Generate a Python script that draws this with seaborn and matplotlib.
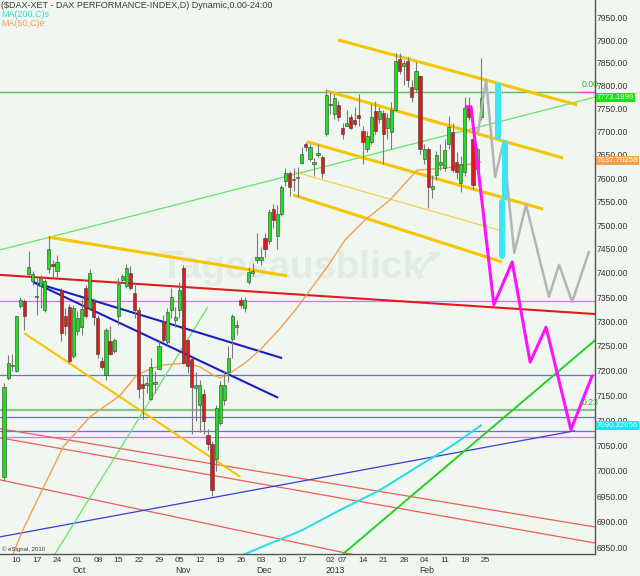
import numpy as np
import pandas as pd
import matplotlib
matplotlib.use("Agg")
import matplotlib.pyplot as plt
import matplotlib.transforms as mtransforms
from matplotlib.ticker import FixedLocator, NullLocator, FuncFormatter
import seaborn as sns

# ------------------------------------------------------------------ data
holidays = ["2012-12-24", "2012-12-25", "2012-12-26", "2012-12-31", "2013-01-01"]
dates = [d.strftime("%Y-%m-%d") for d in pd.bdate_range("2012-09-06", "2013-02-25")
         if d.strftime("%Y-%m-%d") not in holidays]

opens = [6987, 7185, 7209, 7198, 7332, 7342, 7398, 7383, 7350, 7372, 7323, 7408, 7418, 7404,
         7365, 7312, 7330, 7229, 7281, 7288, 7369, 7327, 7342, 7306, 7219, 7190, 7260, 7239,
         7310, 7385, 7372, 7399, 7359, 7324, 7172, 7170, 7143, 7172, 7203, 7300, 7257, 7324,
         7302, 7324, 7410, 7261, 7223, 7165, 7131, 7152, 7071, 7052, 7023, 7095, 7141, 7196,
         7263, 7288, 7344, 7327, 7382, 7400, 7428, 7428, 7474, 7466, 7534, 7478, 7523, 7594,
         7611, 7595, 7600, 7633, 7673, 7640, 7631, 7649, 7645, 7694, 7760, 7738, 7757, 7708,
         7712, 7731, 7725, 7736, 7702, 7662, 7678, 7744, 7727, 7740, 7708, 7700, 7746, 7858,
         7843, 7854, 7797, 7793, 7822, 7640, 7662, 7577, 7606, 7629, 7622, 7674, 7698, 7635,
         7589, 7612, 7752, 7683, 7619, 7731]
highs = [7175, 7232, 7233, 7312, 7350, 7346, 7445, 7405, 7389, 7395, 7388, 7478, 7428, 7437,
         7369, 7327, 7335, 7333, 7321, 7345, 7376, 7409, 7348, 7313, 7227, 7286, 7290, 7265,
         7389, 7398, 7418, 7414, 7375, 7329, 7190, 7188, 7226, 7198, 7260, 7313, 7328, 7368,
         7329, 7381, 7416, 7264, 7226, 7197, 7180, 7162, 7083, 7058, 7131, 7178, 7198, 7249,
         7316, 7302, 7350, 7350, 7412, 7420, 7483, 7455, 7483, 7534, 7545, 7543, 7585, 7622,
         7616, 7622, 7624, 7666, 7678, 7674, 7642, 7674, 7649, 7793, 7785, 7782, 7767, 7718,
         7746, 7738, 7753, 7782, 7712, 7702, 7760, 7767, 7753, 7746, 7740, 7764, 7871, 7871,
         7857, 7862, 7812, 7853, 7823, 7674, 7666, 7607, 7659, 7674, 7683, 7734, 7718, 7655,
         7648, 7776, 7776, 7690, 7666, 7860]
lows = [6980, 7181, 7199, 7196, 7328, 7282, 7395, 7376, 7313, 7327, 7320, 7400, 7390, 7389,
        7259, 7272, 7216, 7226, 7272, 7272, 7306, 7324, 7293, 7225, 7202, 7180, 7232, 7235,
        7293, 7380, 7369, 7364, 7306, 7145, 7103, 7155, 7141, 7155, 7202, 7258, 7252, 7307,
        7289, 7307, 7213, 7194, 7073, 7098, 7077, 7073, 7040, 6950, 7000, 7091, 7130, 7176,
        7226, 7272, 7327, 7320, 7378, 7393, 7420, 7417, 7434, 7460, 7494, 7449, 7520, 7584,
        7562, 7573, 7560, 7630, 7657, 7637, 7604, 7645, 7601, 7690, 7738, 7727, 7723, 7683,
        7712, 7705, 7712, 7712, 7631, 7655, 7674, 7695, 7718, 7631, 7683, 7662, 7744, 7826,
        7802, 7797, 7765, 7786, 7651, 7631, 7537, 7558, 7596, 7618, 7616, 7662, 7614, 7597,
        7570, 7605, 7725, 7577, 7610, 7725]
closes = [7166, 7215, 7212, 7310, 7344, 7310, 7413, 7397, 7353, 7390, 7383, 7450, 7414, 7422,
          7276, 7291, 7219, 7327, 7307, 7325, 7310, 7399, 7308, 7233, 7206, 7282, 7233, 7261,
          7377, 7394, 7411, 7369, 7324, 7162, 7165, 7175, 7206, 7176, 7249, 7262, 7319, 7351,
          7308, 7364, 7215, 7208, 7166, 7170, 7170, 7099, 7052, 6962, 7124, 7170, 7170, 7226,
          7310, 7292, 7334, 7344, 7402, 7405, 7434, 7434, 7451, 7527, 7510, 7523, 7582, 7611,
          7580, 7599, 7603, 7651, 7667, 7666, 7635, 7654, 7610, 7780, 7757, 7773, 7731, 7695,
          7719, 7708, 7716, 7729, 7677, 7690, 7731, 7702, 7744, 7695, 7729, 7746, 7855, 7832,
          7850, 7813, 7776, 7832, 7662, 7662, 7582, 7584, 7649, 7635, 7660, 7710, 7618, 7612,
          7630, 7752, 7731, 7585, 7662, 7773]

# moving averages (bar position, value)
ma50_x = [1.2, 2.2, 4.6, 9.6, 14.5, 21.1, 28.4, 32.6, 36.5, 39.0, 44.9, 48.1, 51.2, 53.0,
          55.4, 59.1, 62.8, 67.7, 71.4, 79.2, 83.6, 88.5, 94.6, 101.3, 107.6, 111.1, 117.0]
ma50_y = [6819, 6838, 6884, 6966, 7047, 7107, 7149, 7191, 7205, 7211, 7215, 7207, 7191, 7185,
          7195, 7215, 7242, 7286, 7323, 7412, 7469, 7511, 7553, 7617, 7621, 7625, 7634]
ma200_x = [57.0, 59.1, 73.1, 82.4, 92.2, 102.0, 109.4, 117.0]
ma200_y = [6830, 6838, 6884, 6923, 6962, 7011, 7047, 7090]

# projections
grey_x = [116.2, 118.2, 120.4, 122.4, 125.1, 128.0, 133.6, 136.1, 139.3, 143.4]
grey_y = [7699, 7813, 7602, 7675, 7442, 7543, 7351, 7417, 7340, 7444]
pink_x = [113.3, 114.5, 120.1, 124.6, 129.0, 132.9, 139.0, 144.2]
pink_y = [7754, 7754, 7334, 7423, 7217, 7288, 7081, 7189]
cyan_bar_x = [121.1, 122.8, 122.1]
cyan_bar_lo = [7688, 7560, 7435]
cyan_bar_hi = [7802, 7675, 7549]

# horizontal levels
fib_levels = [7786, 7120]
fib_labels = ["0.00", "0.23"]
blue_levels = [7191, 7107, 7079]
pink_levels = [7342, 7067]

# trend lines: (x0, y0, x1, y1)
red_main = [(-1.0, 7396, 145.0, 7315)]
red_thin = [(-1.0, 7083, 145.0, 6890), (-1.0, 7065, 145.0, 6859), (-1.0, 6982, 87.3, 6834)]
blue_long = [(-1.0, 6871, 140.0, 7079)]
blue_thick = [(7.1, 7381, 68.2, 7225), (7.1, 7381, 67.2, 7145)]
gold_thick = [(10.8, 7475, 69.4, 7394), (81.9, 7901, 140.5, 7758), (79.2, 7788, 137.1, 7643),
              (74.3, 7678, 132.2, 7534), (70.9, 7564, 122.1, 7423)]
gold_mid = [(4.9, 7276, 57.9, 6988)]
gold_thin = [(71.3, 7613, 122.8, 7486)]
green_light = [(-1.0, 7448, 145.0, 7775), (12.5, 6838, 50.0, 7330)]
green_strong = [(83.1, 6838, 145.0, 7262)]

week_ticks = ["2012-09-10", "2012-09-17", "2012-09-24", "2012-10-01", "2012-10-08", "2012-10-15",
              "2012-10-22", "2012-10-29", "2012-11-05", "2012-11-12", "2012-11-19", "2012-11-26",
              "2012-12-03", "2012-12-10", "2012-12-17", "2013-01-02", "2013-01-07", "2013-01-14",
              "2013-01-21", "2013-01-28", "2013-02-04", "2013-02-11", "2013-02-18", "2013-02-25"]
month_ticks = ["2012-10-01", "2012-11-05", "2012-12-03", "2013-01-02", "2013-02-04"]
month_labels = ["Oct", "Nov", "Dec", "2013", "Feb"]
y_ticks = list(range(6850, 7951, 50))

# ------------------------------------------------------------------ style
sns.set_theme(style="white")
BG = "#f0f7f0"
plt.rcParams["font.family"] = ["Liberation Sans", "DejaVu Sans"]

W, H = 640, 576
fig = plt.figure(figsize=(W / 100, H / 100), dpi=100, facecolor=BG)
ax = fig.add_axes([0, 22 / H, 595 / W, 554 / H])
ax.set_facecolor(BG)
ax.set_yscale("log")
ax.set_xlim(-0.99, 144.9)
ax.set_ylim(6838, 7990)

for s in ["left", "top"]:
    ax.spines[s].set_visible(False)
for s in ["right", "bottom"]:
    ax.spines[s].set_color("#505858")
    ax.spines[s].set_linewidth(1.0)

ax.yaxis.tick_right()
ax.yaxis.set_major_locator(FixedLocator(y_ticks))
ax.yaxis.set_minor_locator(NullLocator())
ax.yaxis.set_major_formatter(FuncFormatter(lambda v, p: f"{v:.2f}"))
ax.tick_params(axis="y", length=0, pad=1.5, labelsize=6.2, labelcolor="#333333")

xpos = np.arange(len(dates))
tick_pos = [dates.index(d) for d in week_ticks]
ax.set_xticks(tick_pos)
ax.set_xticklabels([])
ax.tick_params(axis="x", length=3, width=0.8, color="#505858", direction="out")
xt = mtransforms.blended_transform_factory(ax.transData, ax.transAxes)
for d in week_ticks:
    ax.text(dates.index(d) - 0.1, -0.0115, d[-2:], transform=xt, ha="left", va="center",
            fontsize=6.0, color="#333333", clip_on=False)
for d, lab in zip(month_ticks, month_labels):
    ax.text(dates.index(d) - 0.1, -0.030, lab, transform=xt, ha="left", va="center",
            fontsize=6.2, color="#333333", clip_on=False)

# watermark
ax.text(160 / W, 1 - 268 / H, "Tagesausblick", transform=fig.transFigure, fontsize=28,
        fontweight="bold", color="#e2ece2", ha="left", va="center", zorder=1)
ax.annotate("", xy=(444 / W, 1 - 252 / H), xytext=(418 / W, 1 - 281 / H),
            xycoords="figure fraction", textcoords="figure fraction",
            arrowprops=dict(arrowstyle="->", color="#e2ece2", lw=2.2,
                            connectionstyle="arc3,rad=-0.3"), zorder=1)

# horizontal levels
for lv, c, lw in zip(fib_levels, ["#5cb85c", "#86c486"], [1.0, 1.6]):
    ax.axhline(lv, color=c, lw=lw, zorder=2)
for lv in blue_levels:
    ax.axhline(lv, color="#6b6bea", lw=0.9, zorder=2)
for lv in pink_levels:
    ax.axhline(lv, color="#e36ee8", lw=0.9, zorder=2)
ax.plot([141.2, 144.9], [fib_levels[0], fib_levels[0]], color="#ee44ee", lw=1.0, zorder=2)


def seg(lines, **kw):
    for x0, y0, x1, y1 in lines:
        ax.plot([x0, x1], [y0, y1], solid_capstyle="butt", **kw)


seg(red_thin, color="#f05a5a", lw=0.9, zorder=2)
seg(blue_long, color="#3a3ad8", lw=0.9, zorder=2)
seg(green_light, color="#66e466", lw=0.9, zorder=2)
seg(green_strong, color="#22d222", lw=1.4, zorder=2)
seg(red_main, color="#e21c1c", lw=1.5, zorder=2)
seg(blue_thick, color="#1c1cc8", lw=1.5, zorder=2)
seg(gold_thick, color="#f6c400", lw=2.2, zorder=2)
seg(gold_mid, color="#f6c400", lw=1.5, zorder=2)
seg(gold_thin, color="#f4d24a", lw=0.9, zorder=2)

# moving averages
sns.lineplot(x=ma200_x, y=ma200_y, ax=ax, color="#22dde8", lw=1.4, sort=False,
             legend=False, zorder=2.5)
sns.lineplot(x=ma50_x, y=ma50_y, ax=ax, color="#f0a050", lw=1.0, sort=False,
             legend=False, zorder=2.5)

# candles
o = np.array(opens); h = np.array(highs); l = np.array(lows); c = np.array(closes)
up = c >= o
ax.vlines(xpos, l, h, color="#7a7a7a", lw=0.8, zorder=3)
bottoms = np.minimum(o, c)
heights = np.maximum(np.abs(c - o), 1.5)
ax.bar(xpos, heights, bottom=bottoms, width=0.78,
       color=np.where(up, "#1ee01e", "#e01a1a"), edgecolor="#3a3a3a", linewidth=0.4,
       zorder=3.5)

# projections
sns.lineplot(x=grey_x, y=grey_y, ax=ax, color="#b4b4b4", lw=1.8, sort=False,
             legend=False, zorder=4)
sns.lineplot(x=pink_x, y=pink_y, ax=ax, color="#ff10ff", lw=2.2, sort=False,
             legend=False, zorder=4)
for bx, lo, hi in zip(cyan_bar_x, cyan_bar_lo, cyan_bar_hi):
    ax.plot([bx, bx], [lo, hi], color="#3ee4f2", lw=4.3, solid_capstyle="round", zorder=4.5)

# level labels
yt = mtransforms.blended_transform_factory(ax.transAxes, ax.transData)
for val, txt, fc in [(closes[-1] + 0.19, "7773.1899", "#00f000"),
                     (7637.70, "7637.70258", "#f0a050"),
                     (7090.33, "7090.32656", "#00eef0")]:
    ax.text(1.003, val, txt, transform=yt, ha="left", va="center", fontsize=5.7,
            color="white", bbox=dict(boxstyle="square,pad=0.12", fc=fc, ec="none"),
            clip_on=False, zorder=10)
for lv, lab in zip(fib_levels, fib_labels):
    ax.text(141.6, lv * 1.0008, lab, ha="left", va="bottom", fontsize=6.2,
            color="#3ca03c", clip_on=False, zorder=5)

# header texts
fig.text(1 / W, 1 - 5 / H, "($DAX-XET - DAX PERFORMANCE-INDEX,D) Dynamic,0.00-24:00",
         fontsize=6.5, color="#3a3a3a", ha="left", va="center")
fig.text(1 / W, 1 - 14.5 / H, "MA(200,C)s", fontsize=6.5, color="#30d8e0", ha="left", va="center")
fig.text(1 / W, 1 - 24 / H, "MA(50,C)e", fontsize=6.5, color="#f0a060", ha="left", va="center")
fig.text(2 / W, 1 - 549 / H, "\u00a9 eSignal, 2010", fontsize=4.3, color="#333333",
         ha="left", va="center")

fig.savefig("out.png", dpi=100, facecolor=BG)
